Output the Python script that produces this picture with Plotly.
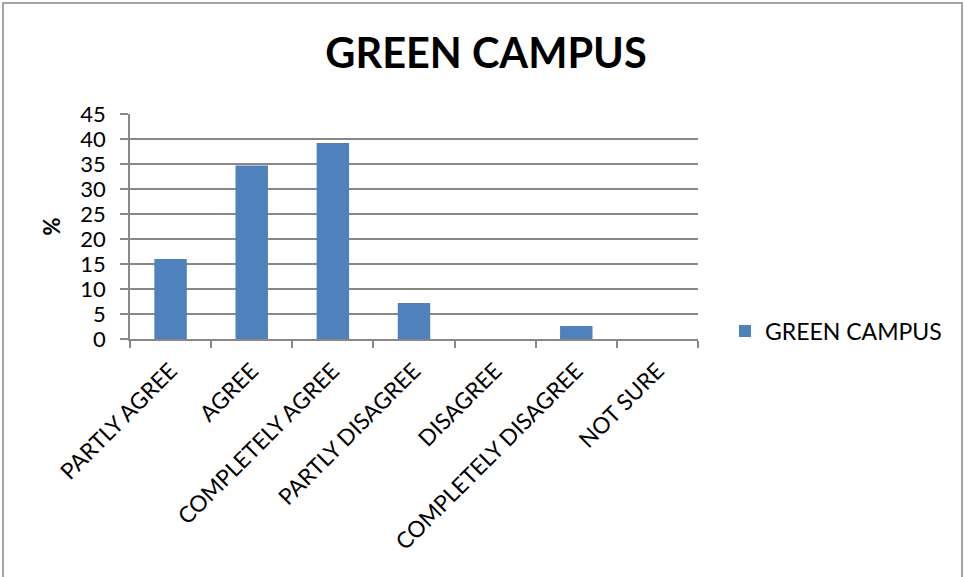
import plotly.graph_objects as go

categories = ["PARTLY AGREE", "AGREE", "COMPLETELY AGREE", "PARTLY DISAGREE",
              "DISAGREE", "COMPLETELY DISAGREE", "NOT SURE"]
values = [16, 34.7, 39.2, 7.2, 0, 2.6, 0]
series_name = "GREEN CAMPUS"
y_ticks = [0, 5, 10, 15, 20, 25, 30, 35, 40, 45]

W, H = 964, 577
L, R, T, B = 130, 266, 114, 238
pw, ph = W - L - R, H - T - B

FONT = "Lato"

fig = go.Figure(go.Bar(
    x=categories, y=values, name=series_name,
    marker=dict(color="#4F81BD", line=dict(width=0)),
    width=0.4, showlegend=True,
))

fig.update_layout(
    width=W, height=H,
    margin=dict(l=L, r=R, t=T, b=B, autoexpand=False),
    paper_bgcolor="white", plot_bgcolor="white",
    font=dict(family=FONT, color="black", size=20),
    title=dict(text="<b>GREEN CAMPUS</b>", x=(486 - L) / pw, xref="paper",
               xanchor="center", y=1 - 53 / H, yanchor="middle",
               font=dict(size=41.5, family=FONT, color="black")),
    legend=dict(x=(725 - L) / pw, y=(339 - 331) / ph, xanchor="left",
                yanchor="middle", font=dict(size=23, family=FONT),
                bgcolor="rgba(0,0,0,0)", itemwidth=30),
    xaxis=dict(type="category", tickangle=-45, showgrid=False, automargin=False,
               showline=True, linecolor="#888888", linewidth=1.5,
               ticks="outside", tickson="boundaries", ticklen=7,
               tickcolor="#888888", tickwidth=1.5, ticklabelstandoff=8,
               tickfont=dict(size=22.5, family=FONT)),
    yaxis=dict(range=[0, 45], tickvals=y_ticks, showgrid=True, automargin=False,
               gridcolor="#888888", gridwidth=1.5,
               showline=True, linecolor="#888888", linewidth=1.5,
               ticks="outside", ticklen=8, tickcolor="#888888", tickwidth=1.5,
               ticklabelstandoff=10,
               tickfont=dict(size=22, family=FONT),
               title=dict(text="<b>%</b>", font=dict(size=22, family=FONT), standoff=14),
               zeroline=False),
    shapes=[dict(type="rect", xref="paper", yref="paper",
                 x0=(3 - L) / pw, x1=(962 - L) / pw,
                 y0=((H - B) - 590) / ph, y1=((H - B) - 3) / ph,
                 line=dict(color="#888888", width=1.5), fillcolor="rgba(0,0,0,0)",
                 layer="below")],
)

fig.write_html("out.html", config={"displayModeBar": False},
               post_script="document.body.style.margin='0';document.body.style.overflow='hidden';")
